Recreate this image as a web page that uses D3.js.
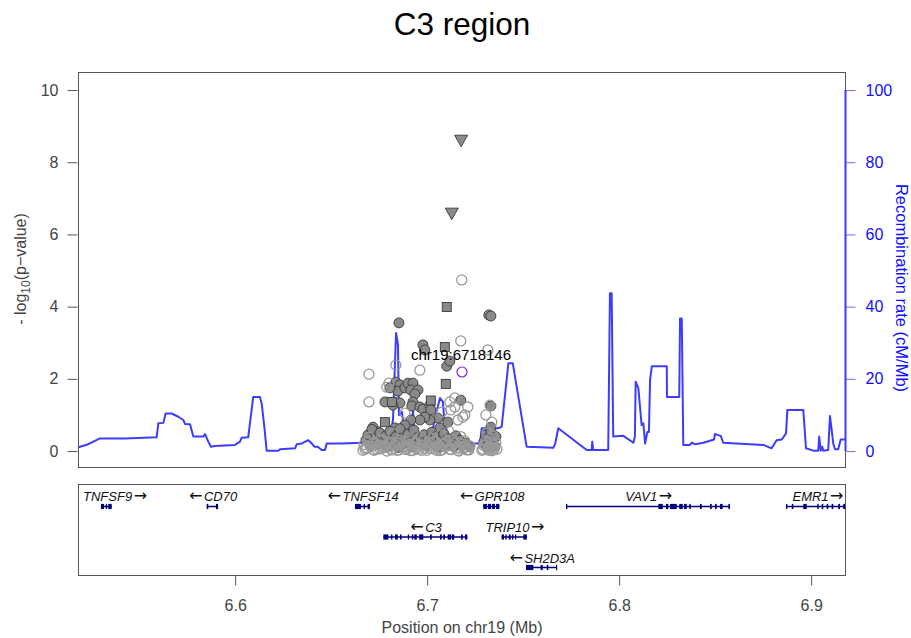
<!DOCTYPE html>
<html>
<head>
<meta charset="utf-8">
<script src="https://cdn.jsdelivr.net/npm/d3@7"></script>
<style>
  html, body { margin: 0; padding: 0; background: #fff; }
  svg { display: block; font-family: "Liberation Sans", Arial, Helvetica, sans-serif; }
</style>
</head>
<body>
<svg id="chart" width="911" height="638"></svg>
<script>
// ---- data -------------------------------------------------------------
const chartTitle = "C3 region";
const xAxisTitle = "Position on chr19 (Mb)";
const recombTitle = "Recombination rate (cM/Mb)";
const refSnpName = "chr19:6718146";
const refSnpPos = 6.718146;
const refSnpLogP = 2.19;
const xDomain = [6.518146, 6.918146];
const xTicks = [6.6, 6.7, 6.8, 6.9];
const yTicks = [0, 2, 4, 6, 8, 10];
const recombTicks = [0, 20, 40, 60, 80, 100];

// SNPs drawn as down-pointing triangles
const trianglePos = [6.7177, 6.7128];
const triangleLogP = [8.61, 6.59];

// SNPs drawn as squares
const squarePos = [6.7102, 6.7092, 6.7097, 6.7019, 6.6816, 6.6780];
const squareLogP = [3.99, 2.88, 1.86, 1.40, 1.36, 0.80];

// SNPs drawn as filled circles
const filledPos = [
  6.6853, 6.7321, 6.7332, 6.6978, 6.6988, 6.7102, 6.7118, 6.6837, 6.6858, 6.6848,
  6.6806, 6.6884, 6.6900, 6.6926, 6.6915, 6.6952, 6.6936, 6.6780, 6.6858, 6.6822,
  6.6926, 6.6920, 6.6962, 6.6978, 6.7014, 6.7019, 6.7175, 6.7332, 6.7056, 6.7014,
  6.6988, 6.6962, 6.6915, 6.7108, 6.6718, 6.6744, 6.7332, 6.7327, 6.6884, 6.6832,
  6.7066,
  6.6681, 6.6692, 6.6702, 6.6712, 6.6733, 6.6744, 6.6754, 6.6775, 6.6785, 6.6796,
  6.6806, 6.6827, 6.6837, 6.6848, 6.6858, 6.6868, 6.6879, 6.6900, 6.6910, 6.6920,
  6.6931, 6.6952, 6.6962, 6.6983, 6.6993, 6.7004, 6.7024, 6.7035, 6.7045, 6.7056,
  6.7066, 6.7087, 6.7097, 6.7108, 6.7128, 6.7139, 6.7149, 6.7170, 6.7180, 6.7201,
  6.7222,
  6.7295, 6.7306, 6.7311, 6.7316, 6.7327, 6.7332, 6.7337, 6.7342, 6.7352, 6.7358
];
const filledLogP = [
  3.55, 3.77, 3.74, 2.94, 2.80, 2.35, 2.49, 1.91, 1.83, 1.66,
  1.75, 1.75, 1.88, 1.88, 1.69, 1.69, 1.58, 1.36, 1.33, 1.27,
  1.36, 1.25, 1.22, 1.16, 1.27, 1.14, 1.41, 1.25, 0.91, 0.86,
  0.94, 0.86, 0.86, 0.80, 0.66, 0.53, 0.66, 0.53, 0.72, 0.64,
  0.64,
  0.30, 0.45, 0.15, 0.60, 0.35, 0.20, 0.50, 0.28, 0.42, 0.12,
  0.55, 0.25, 0.40, 0.10, 0.62, 0.18, 0.33, 0.47, 0.22, 0.12,
  0.58, 0.38, 0.26, 0.45, 0.15, 0.32, 0.52, 0.20, 0.40, 0.10,
  0.28, 0.48, 0.17, 0.35, 0.25, 0.12, 0.42, 0.30, 0.15, 0.22,
  0.12,
  0.25, 0.45, 0.12, 0.35, 0.20, 0.55, 0.10, 0.30, 0.15, 0.40
];

// SNPs drawn as open circles
const openPos = [
  6.7180, 6.7175, 6.7316, 6.6697, 6.6962, 6.6837, 6.6790, 6.6801, 6.6697, 6.7327,
  6.7144, 6.7118, 6.7212, 6.7123, 6.7144, 6.7196, 6.7186, 6.7160, 6.7306, 6.7337,
  6.7076, 6.6884,
  6.6681, 6.6697, 6.6718, 6.6738, 6.6759, 6.6780, 6.6801, 6.6822, 6.6842, 6.6863,
  6.6884, 6.6905, 6.6926, 6.6946, 6.6967, 6.6988, 6.7009, 6.7030, 6.7050, 6.7071,
  6.7092, 6.7113, 6.7134, 6.7154, 6.7175, 6.7196, 6.7217,
  6.7295, 6.7311, 6.7327, 6.7342, 6.7358,
  6.6676, 6.6723, 6.6764, 6.6816, 6.6889, 6.6941, 6.6972, 6.7014, 6.7076, 6.7118,
  6.7160, 6.7191, 6.7212, 6.7290, 6.7321, 6.7347,
  6.6666, 6.6671, 6.6686, 6.6692, 6.6707, 6.6723, 6.6728, 6.6749, 6.6754, 6.6770,
  6.6785, 6.6790, 6.6811, 6.6816, 6.6832, 6.6848, 6.6853, 6.6874, 6.6879, 6.6894,
  6.6910, 6.6915, 6.6936, 6.6941, 6.6957, 6.6972, 6.6978, 6.6998, 6.7004, 6.7019,
  6.7035, 6.7040, 6.7061, 6.7066, 6.7082, 6.7097, 6.7102, 6.7123, 6.7128, 6.7144,
  6.7160, 6.7165, 6.7186, 6.7191, 6.7206, 6.7222,
  6.7285, 6.7300, 6.7306, 6.7316, 6.7321, 6.7332, 6.7337, 6.7347, 6.7352, 6.7363
];
const openLogP = [
  4.74, 3.05, 2.80, 2.13, 2.24, 2.38, 1.77, 1.88, 1.36, 1.27,
  1.47, 1.36, 1.22, 1.14, 1.22, 1.00, 0.94, 0.86, 1.00, 0.80,
  1.08, 1.05,
  0.10, 0.38, 0.22, 0.05, 0.32, 0.15, 0.25, 0.48, 0.02, 0.30,
  0.12, 0.36, 0.02, 0.22, 0.40, 0.08, 0.25, 0.35, 0.02, 0.45,
  0.20, 0.55, 0.30, 0.10, 0.40, 0.28, 0.03,
  0.15, 0.50, 0.08, 0.42, 0.22,
  0.05, 0.02, 0.08, 0.03, 0.04, 0.06, 0.02, 0.07, 0.03, 0.05,
  0.02, 0.08, 0.04, 0.05, 0.02, 0.04,
  0.02, 0.18, 0.08, 0.26, 0.12, 0.04, 0.22, 0.15, 0.06, 0.28,
  0.10, 0.00, 0.20, 0.05, 0.16, 0.24, 0.03, 0.13, 0.27, 0.07,
  0.19, 0.01, 0.23, 0.11, 0.05, 0.17, 0.29, 0.02, 0.14, 0.21,
  0.06, 0.25, 0.09, 0.01, 0.18, 0.12, 0.27, 0.04, 0.16, 0.22,
  0.08, 0.00, 0.19, 0.11, 0.03, 0.14,
  0.02, 0.18, 0.28, 0.06, 0.12, 0.24, 0.01, 0.16, 0.09, 0.05
];

// Recombination rate (cM/Mb) along the region
const recombPos = [
  6.5181, 6.5192, 6.5235, 6.5296, 6.5426, 6.5591, 6.5600, 6.5626, 6.5638, 6.5669,
  6.5704, 6.5730, 6.5739, 6.5765, 6.5782, 6.5834, 6.5843, 6.5860, 6.5874, 6.5895,
  6.5999, 6.6025, 6.6034, 6.6068, 6.6094, 6.6129, 6.6138, 6.6152, 6.6164, 6.6225,
  6.6234, 6.6312, 6.6321, 6.6347, 6.6381, 6.6399, 6.6412, 6.6430, 6.6451, 6.6468,
  6.6477, 6.6555, 6.6659, 6.6676, 6.6713, 6.6744, 6.6780, 6.6806, 6.6822, 6.6838,
  6.6848, 6.6853, 6.6869, 6.6879, 6.6900, 6.6916, 6.6926, 6.6937, 6.6963, 6.7015,
  6.7051, 6.7067, 6.7082, 6.7088, 6.7109, 6.7145, 6.7187, 6.7275, 6.7284, 6.7369,
  6.7388, 6.7423, 6.7446, 6.7518, 6.7657, 6.7666, 6.7683, 6.7831, 6.7857, 6.7860,
  6.7865, 6.7943, 6.7952, 6.7961, 6.7969, 6.8022, 6.8074, 6.8082, 6.8086, 6.8100,
  6.8117, 6.8126, 6.8135, 6.8147, 6.8155, 6.8161, 6.8170, 6.8248, 6.8249, 6.8313,
  6.8317, 6.8326, 6.8334, 6.8369, 6.8378, 6.8395, 6.8438, 6.8482, 6.8494, 6.8499,
  6.8516, 6.8529, 6.8542, 6.8751, 6.8794, 6.8820, 6.8847, 6.8869, 6.8876, 6.8959,
  6.8973, 6.9011, 6.9037, 6.9042, 6.9050, 6.9058, 6.9063, 6.9089, 6.9098, 6.9107,
  6.9115, 6.9124, 6.9141, 6.9154, 6.9167, 6.9181
];
const recombRate = [
  1.0, 1.2, 1.9, 3.5, 3.5, 3.8, 7.7, 7.8, 10.4, 10.4,
  9.5, 8.6, 7.5, 7.4, 4.0, 4.0, 4.7, 2.6, 1.2, 1.4,
  1.7, 2.6, 3.7, 3.8, 15.0, 15.0, 13.2, 6.7, 0.1, 0.1,
  0.5, 0.75, 1.9, 2.1, 3.0, 2.1, 1.2, 1.2, 0.3, 0.3,
  2.1, 2.1, 2.3, 2.8, 3.0, 2.8, 3.0, 3.9, 8.6, 32.7,
  29.4, 10.0, 10.8, 5.8, 2.8, 3.6, 11.4, 3.6, 2.8, 2.8,
  11.4, 14.7, 13.6, 9.4, 3.6, 2.5, 2.1, 2.1, 6.3, 6.3,
  6.7, 24.3, 24.3, 1.2, 0.9, 1.9, 6.3, 0.3, 0.3, 2.6,
  0.3, 0.3, 43.7, 43.7, 4.0, 4.2, 2.3, 4.0, 19.2, 17.4,
  7.2, 7.7, 2.1, 5.3, 5.3, 19.7, 23.5, 23.5, 15.0, 15.0,
  36.7, 36.7, 1.7, 1.7, 2.3, 1.9, 2.3, 3.0, 3.2, 4.7,
  4.4, 4.2, 2.3, 1.7, 0.75, 3.0, 3.2, 4.9, 11.4, 11.4,
  0.75, 0.1, 0.1, 4.0, 0.1, 1.2, 0.1, 0.3, 9.7, 5.8,
  2.1, 0.5, 0.5, 3.2, 3.2, 3.2
];

// Genes in the region
const geneNames = ["TNFSF9", "CD70", "TNFSF14", "C3", "GPR108", "TRIP10", "SH2D3A", "VAV1", "EMR1"];
const geneStrands = ["+", "-", "-", "-", "-", "+", "-", "+", "+"];
const geneRows = [0, 0, 0, 1, 0, 1, 2, 0, 0];
const geneStarts = [6.5301, 6.5852, 6.6624, 6.6772, 6.7292, 6.7388, 6.7515, 6.7723, 6.8869];
const geneEnds = [6.5357, 6.5911, 6.6702, 6.7209, 6.7376, 6.7519, 6.7676, 6.8577, 6.9403];
const geneExons = [
  [[6.5301, 6.5317], [6.5326, 6.5333], [6.5339, 6.5357]],
  [[6.5852, 6.5860], [6.5900, 6.5911]],
  [[6.6624, 6.6655], [6.6669, 6.6676], [6.6690, 6.6702]],
  [[6.6772, 6.6798], [6.6812, 6.6819], [6.6833, 6.6847], [6.6859, 6.6867], [6.6899, 6.6906],
   [6.6920, 6.6928], [6.6933, 6.6946], [6.6958, 6.6980], [6.7015, 6.7024], [6.7067, 6.7076],
   [6.7084, 6.7093], [6.7107, 6.7124], [6.7128, 6.7141], [6.7176, 6.7185], [6.7197, 6.7209]],
  [[6.7292, 6.7312], [6.7317, 6.7333], [6.7338, 6.7353], [6.7359, 6.7376]],
  [[6.7388, 6.7400], [6.7407, 6.7414], [6.7425, 6.7435], [6.7442, 6.7449], [6.7458, 6.7463],
   [6.7501, 6.7519]],
  [[6.7515, 6.7553], [6.7591, 6.7602], [6.7623, 6.7631], [6.7671, 6.7676]],
  [[6.7723, 6.7730], [6.8204, 6.8227], [6.8244, 6.8256], [6.8265, 6.8300], [6.8313, 6.8331],
   [6.8338, 6.8352], [6.8365, 6.8373], [6.8421, 6.8430], [6.8473, 6.8482], [6.8499, 6.8508],
   [6.8525, 6.8539], [6.8569, 6.8577]],
  [[6.8869, 6.8876], [6.8899, 6.8907], [6.8959, 6.8977], [6.9032, 6.9039], [6.9055, 6.9063],
   [6.9081, 6.9089], [6.9107, 6.9115], [6.9141, 6.9150], [6.9167, 6.9182], [6.9230, 6.9240],
   [6.9300, 6.9315], [6.9390, 6.9403]]
];

// ---- layout ----------------------------------------------------------
const svg = d3.select("#chart");
const plotLeft = 78, plotRight = 846, plotTop = 72, plotBottom = 468;
const geneTop = 484, geneBottom = 576;
const rowLabelBase = [500.5, 531.5, 562.5];
const rowExonMid = [506.5, 537, 567.5];

const x = d3.scaleLinear().domain(xDomain).range([plotLeft, plotRight]);
const y = d3.scaleLinear().domain([-0.47, 10.5]).range([plotBottom, plotTop]);
const yRecomb = d3.scaleLinear().domain([-4.7, 105]).range([plotBottom, plotTop]);

const axisGrey = "#555";
const textGrey = "#444";
const recombBlue = "#3c3cff";
const pointGrey = "#8a8a8a";
const geneNavy = "#00007f";

const defs = svg.append("defs");
defs.append("clipPath").attr("id", "plotClip")
  .append("rect").attr("x", plotLeft).attr("y", plotTop)
  .attr("width", plotRight - plotLeft).attr("height", plotBottom - plotTop);
defs.append("clipPath").attr("id", "geneClip")
  .append("rect").attr("x", plotLeft).attr("y", geneTop)
  .attr("width", plotRight - plotLeft).attr("height", geneBottom - geneTop);

// Title
svg.append("text")
  .attr("x", (plotLeft + plotRight) / 2).attr("y", 35)
  .attr("text-anchor", "middle").attr("font-size", 31.5).attr("fill", "#000")
  .text(chartTitle);

// ---- association panel ----------------------------------------------
const plotG = svg.append("g").attr("clip-path", "url(#plotClip)");

// recombination rate line
const recomb = recombPos.map((p, i) => ({ pos: p, rate: recombRate[i] }));
plotG.append("path")
  .datum(recomb)
  .attr("fill", "none")
  .attr("stroke", recombBlue)
  .attr("stroke-width", 2)
  .attr("stroke-linejoin", "round")
  .attr("d", d3.line().x(d => x(d.pos)).y(d => yRecomb(d.rate)));

const zip = (a, b) => a.map((v, i) => ({ pos: v, logp: b[i] }));

// filled circles
plotG.append("g").selectAll("circle")
  .data(zip(filledPos, filledLogP)).join("circle")
  .attr("cx", d => x(d.pos)).attr("cy", d => y(d.logp)).attr("r", 5)
  .attr("fill", pointGrey).attr("stroke", "#3a3a3a").attr("stroke-width", 0.9);

// open circles
plotG.append("g").selectAll("circle")
  .data(zip(openPos, openLogP)).join("circle")
  .attr("cx", d => x(d.pos)).attr("cy", d => y(d.logp)).attr("r", 5)
  .attr("fill", "none").attr("stroke", "#999").attr("stroke-width", 1.3);

// squares
plotG.append("g").selectAll("rect")
  .data(zip(squarePos, squareLogP)).join("rect")
  .attr("x", d => x(d.pos) - 4.5).attr("y", d => y(d.logp) - 4.5)
  .attr("width", 9).attr("height", 9)
  .attr("fill", pointGrey).attr("stroke", "#3a3a3a").attr("stroke-width", 0.9);

// down triangles
plotG.append("g").selectAll("path")
  .data(zip(trianglePos, triangleLogP)).join("path")
  .attr("transform", d => `translate(${x(d.pos)},${y(d.logp)})`)
  .attr("d", "M-6.5,-5 L6.5,-5 L0,6.5 Z")
  .attr("fill", pointGrey).attr("stroke", "#3a3a3a").attr("stroke-width", 0.9);

// reference SNP
plotG.append("circle")
  .attr("cx", x(refSnpPos)).attr("cy", y(refSnpLogP)).attr("r", 5)
  .attr("fill", "none").attr("stroke", "#7a1fe0").attr("stroke-width", 1.2);
svg.append("text")
  .attr("x", x(refSnpPos) - 1).attr("y", y(refSnpLogP) - 11.5)
  .attr("text-anchor", "middle").attr("font-size", 15).attr("fill", "#000")
  .text(refSnpName);

// frame
svg.append("rect")
  .attr("x", plotLeft + 0.5).attr("y", plotTop + 0.5)
  .attr("width", plotRight - plotLeft - 1).attr("height", plotBottom - plotTop - 1)
  .attr("fill", "none").attr("stroke", axisGrey).attr("stroke-width", 1);

// left axis
const leftAxis = svg.append("g")
  .attr("transform", `translate(${plotLeft - 0.5},0)`)
  .call(d3.axisLeft(y).tickValues(yTicks).tickSize(10).tickPadding(9).tickFormat(d3.format("d")));
leftAxis.select(".domain").remove();
leftAxis.selectAll("line").attr("stroke", axisGrey);
leftAxis.selectAll("text").attr("font-size", 16).attr("fill", textGrey)
  .attr("font-family", "Liberation Sans, Arial, sans-serif");

const yLabel = svg.append("text")
  .attr("transform", `translate(26,269) rotate(-90)`)
  .attr("text-anchor", "middle").attr("font-size", 16).attr("fill", textGrey);
yLabel.append("tspan").text("- log");
yLabel.append("tspan").attr("font-size", 12).attr("dy", 4).text("10");
yLabel.append("tspan").attr("dy", -4).text("(p\u2212value)");

// right axis (recombination rate)
const rightAxis = svg.append("g")
  .attr("transform", `translate(${plotRight - 0.5},0)`)
  .call(d3.axisRight(yRecomb).tickValues(recombTicks).tickSize(10).tickPadding(10).tickFormat(d3.format("d")));
rightAxis.select(".domain").remove();
rightAxis.selectAll("line").attr("stroke", "#6f6fff");
rightAxis.selectAll("text").attr("font-size", 16).attr("fill", "#1010ff")
  .attr("font-family", "Liberation Sans, Arial, sans-serif");
svg.append("line")
  .attr("x1", plotRight - 0.5).attr("x2", plotRight - 0.5)
  .attr("y1", yRecomb(recombTicks[0])).attr("y2", yRecomb(recombTicks[recombTicks.length - 1]))
  .attr("stroke", recombBlue).attr("stroke-width", 2);
svg.append("text")
  .attr("transform", `translate(896,288) rotate(90)`)
  .attr("text-anchor", "middle").attr("font-size", 16.5).attr("fill", "#1010ff")
  .text(recombTitle);

// ---- gene panel -----------------------------------------------------
const geneG = svg.append("g");
const geneBody = geneG.append("g").attr("clip-path", "url(#geneClip)");
geneNames.forEach((name, i) => {
  const row = geneRows[i];
  const mid = rowExonMid[row];
  geneBody.append("line")
    .attr("x1", x(geneStarts[i])).attr("x2", x(geneEnds[i]))
    .attr("y1", mid).attr("y2", mid)
    .attr("stroke", geneNavy).attr("stroke-width", 1.5);
  geneBody.append("g").selectAll("rect")
    .data(geneExons[i]).join("rect")
    .attr("x", e => x(e[0]))
    .attr("width", e => Math.max(1.2, x(e[1]) - x(e[0])))
    .attr("y", mid - 2.6).attr("height", 5.2)
    .attr("fill", geneNavy);

  // gene name with a strand arrow
  const centre = x((geneStarts[i] + geneEnds[i]) / 2);
  const t = geneG.append("text")
    .attr("y", rowLabelBase[row])
    .attr("font-size", 13).attr("fill", "#111")
    .attr("text-anchor", "start");
  const arrowSpan = (txt) => t.append("tspan")
    .attr("font-family", "DejaVu Sans, sans-serif").attr("font-size", 16)
    .attr("font-style", "normal").text(txt);
  if (geneStrands[i] === "-") arrowSpan("\u2190");
  t.append("tspan").attr("font-style", "italic")
    .attr("dx", geneStrands[i] === "-" ? 1.5 : 0).text(name);
  if (geneStrands[i] === "+") arrowSpan("\u2192").attr("dx", 1.5);
  const w = t.node().getComputedTextLength();
  let left = centre - w / 2;
  left = Math.max(plotLeft + 5, Math.min(plotRight - 4 - w, left));
  t.attr("x", left);
});

geneG.append("rect")
  .attr("x", plotLeft + 0.5).attr("y", geneTop + 0.5)
  .attr("width", plotRight - plotLeft - 1).attr("height", geneBottom - geneTop - 1)
  .attr("fill", "none").attr("stroke", axisGrey).attr("stroke-width", 1);

// bottom axis
const bottomAxis = svg.append("g")
  .attr("transform", `translate(0,${geneBottom - 0.5})`)
  .call(d3.axisBottom(x).tickValues(xTicks).tickSize(10).tickPadding(14).tickFormat(d3.format(".1f")));
bottomAxis.select(".domain").remove();
bottomAxis.selectAll("line").attr("stroke", axisGrey);
bottomAxis.selectAll("text").attr("font-size", 16).attr("fill", textGrey)
  .attr("font-family", "Liberation Sans, Arial, sans-serif");

svg.append("text")
  .attr("x", (plotLeft + plotRight) / 2).attr("y", 633)
  .attr("text-anchor", "middle").attr("font-size", 16).attr("fill", textGrey)
  .text(xAxisTitle);
</script>
</body>
</html>
